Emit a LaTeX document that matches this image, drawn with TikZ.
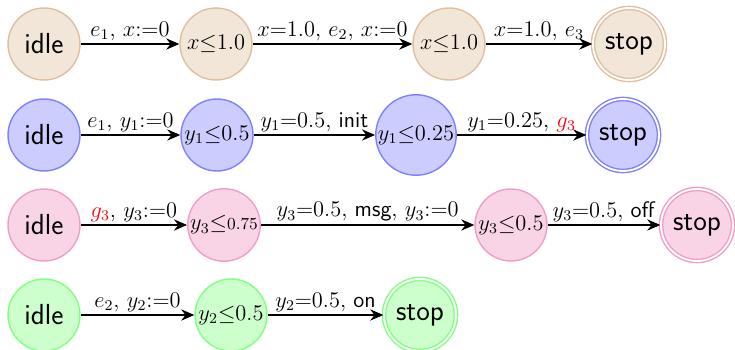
\documentclass[tikz,border=0pt]{standalone}
\usetikzlibrary{arrows.meta}
\definecolor{flA}{HTML}{F2E6D9}\definecolor{bdA}{HTML}{DFBF9F}
\definecolor{flB}{HTML}{CCCCFF}\definecolor{bdB}{HTML}{8080FF}
\definecolor{flC}{HTML}{F9D4E6}\definecolor{bdC}{HTML}{F29CC8}
\definecolor{flD}{HTML}{CCFFCC}\definecolor{bdD}{HTML}{80FF80}
\begin{document}
\begin{tikzpicture}[x=0.535pt,y=-0.535pt,
  every node/.style={font=\large},
  loc/.style={circle, line width=0.75pt, minimum size=38.5pt, inner sep=0.5pt},
  rowA/.style={loc, draw=bdA, fill=flA},
  rowB/.style={loc, draw=bdB, fill=flB},
  rowC/.style={loc, draw=bdC, fill=flC},
  rowD/.style={loc, draw=bdD, fill=flD},
  big/.style={font=\sffamily\fontsize{15.5}{18}\selectfont},
  final/.style={big, double=white, double distance=1pt},
  trans/.style={thick, -{Stealth[length=7pt,width=6pt]}},
  lab/.style={midway, above, inner sep=1.5pt}]
\useasboundingbox (0,0) rectangle (735,350);
% row 1
\node[rowA, big] (a1) at (44,44) {idle};
\node[rowA] (a2) at (216,44) {$x{\leq}1.0$};
\node[rowA] (a3) at (449,44) {$x{\leq}1.0$};
\node[rowA, final] (a4) at (629,44) {stop};
\draw[trans] (a1) -- node[lab] {$e_1$, $x{:=}0$} (a2);
\draw[trans] (a2) -- node[lab] {$x{=}1.0$, $e_2$, $x{:=}0$} (a3);
\draw[trans] (a3) -- node[lab] {$x{=}1.0$, $e_3$} (a4);
% row 2
\node[rowB, big] (b1) at (44,135) {idle};
\node[rowB] (b2) at (217,135) {$y_1{\leq}0.5$};
\node[rowB] (b3) at (416,135) {$y_1{\leq}0.25$};
\node[rowB, final] (b4) at (623,135) {stop};
\draw[trans] (b1) -- node[lab] {$e_1$, $y_1{:=}0$} (b2);
\draw[trans] (b2) -- node[lab] {$y_1{=}0.5$, \textsf{init}} (b3);
\draw[trans] (b3) -- node[lab] {$y_1{=}0.25$, $\textcolor{red}{g_3}$} (b4);
% row 3
\node[rowC, big] (c1) at (44,225) {idle};
\node[rowC] (c2) at (224,225) {$y_3{\leq}\mbox{\small$0.75$}$};
\node[rowC] (c3) at (511,225) {$y_3{\leq}0.5$};
\node[rowC, final] (c4) at (697,225) {stop};
\draw[trans] (c1) -- node[lab] {$\textcolor{red}{g_3}$, $y_3{:=}0$} (c2);
\draw[trans] (c2) -- node[lab] {$y_3{=}0.5$, \textsf{msg}, $y_3{:=}0$} (c3);
\draw[trans] (c3) -- node[lab] {$y_3{=}0.5$, \textsf{off}} (c4);
% row 4
\node[rowD, big] (d1) at (44,315) {idle};
\node[rowD] (d2) at (231,315) {$y_2{\leq}0.5$};
\node[rowD, final] (d3) at (420,315) {stop};
\draw[trans] (d1) -- node[lab] {$e_2$, $y_2{:=}0$} (d2);
\draw[trans] (d2) -- node[lab] {$y_2{=}0.5$, \textsf{on}} (d3);
\end{tikzpicture}
\end{document}
